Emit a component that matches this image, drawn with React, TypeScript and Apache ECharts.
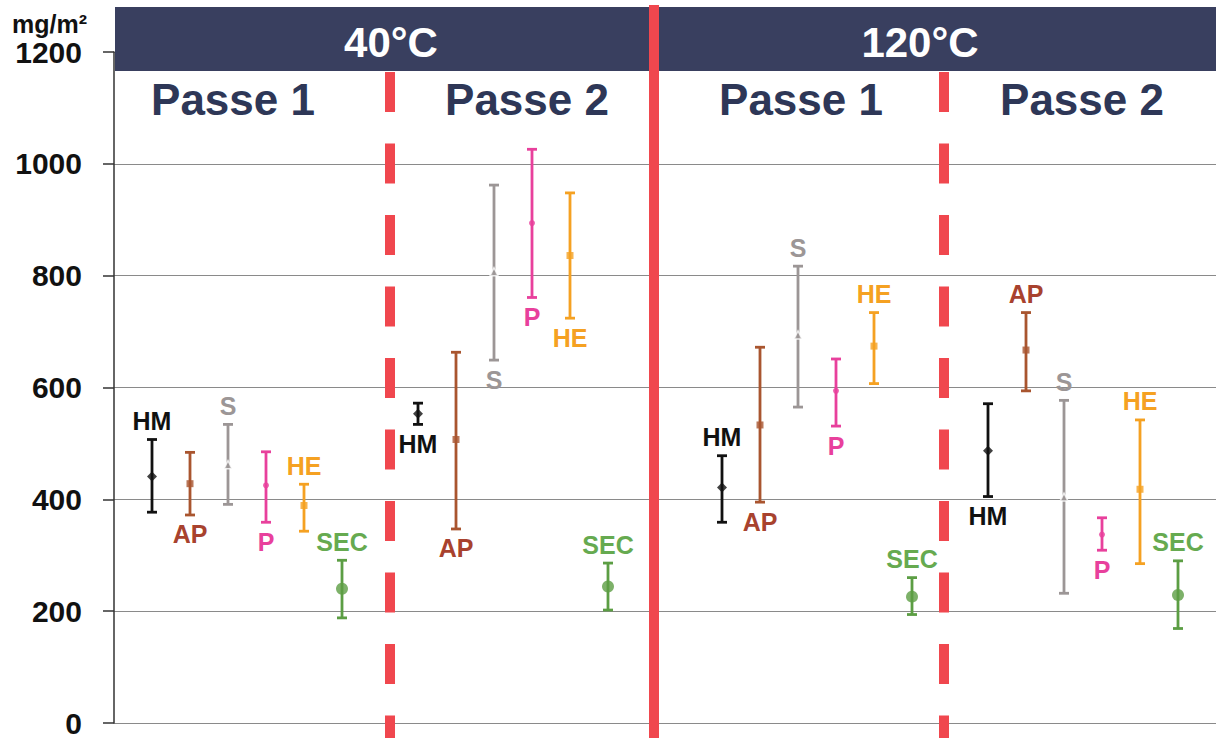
import React, { useEffect, useRef } from "react";
import * as echarts from "echarts";

// Groups (x order) and measurement types
const groups = ["40°C Passe 1", "40°C Passe 2", "120°C Passe 1", "120°C Passe 2"];
const types = ["HM", "AP", "S", "P", "HE", "SEC"];

// mean / low / high per type, one value per group
const hmMean = [441, 553, 421, 487];
const hmLow = [377, 534, 359, 405];
const hmHigh = [507, 572, 478, 571];

const apMean = [428, 507, 533, 667];
const apLow = [372, 347, 395, 594];
const apHigh = [484, 663, 672, 734];

const sMean = [462, 807, 694, 404];
const sLow = [391, 649, 565, 232];
const sHigh = [534, 962, 817, 577];

const pMean = [425, 894, 594, 337];
const pLow = [359, 761, 531, 309];
const pHigh = [485, 1026, 651, 367];

const heMean = [389, 836, 674, 418];
const heLow = [343, 724, 607, 285];
const heHigh = [427, 948, 734, 542];

const secMean = [240, 244, 226, 229];
const secLow = [188, 202, 194, 169];
const secHigh = [291, 286, 260, 290];

// label side per group ("top" = above the bar, "bottom" = below)
const hmSide = ["top", "bottom", "top", "bottom"];
const apSide = ["bottom", "bottom", "bottom", "top"];
const sSide = ["top", "bottom", "top", "top"];
const pSide = ["bottom", "bottom", "bottom", "bottom"];
const heSide = ["top", "bottom", "top", "top"];
const secSide = ["top", "top", "top", "top"];

const yTicks = [0, 200, 400, 600, 800, 1000, 1200];
const tempLabels = ["40°C", "120°C"];
const passLabels = ["Passe 1", "Passe 2", "Passe 1", "Passe 2"];

const FONT = "'Liberation Sans', Arial, Helvetica, sans-serif";
const groupStart = [1, 8, 16, 23];

const seriesDefs = [
  { name: types[0], mean: hmMean, low: hmLow, high: hmHigh, side: hmSide, color: "#111111", label: "#111111", symbol: "diamond", size: 10 },
  { name: types[1], mean: apMean, low: apLow, high: apHigh, side: apSide, color: "#a9552f", label: "#a8422e", symbol: "rect", size: 7 },
  { name: types[2], mean: sMean, low: sLow, high: sHigh, side: sSide, color: "#9c9696", label: "#9c9696", symbol: "triangle", size: 8 },
  { name: types[3], mean: pMean, low: pLow, high: pHigh, side: pSide, color: "#e8409c", label: "#e8409c", symbol: "circle", size: 6 },
  { name: types[4], mean: heMean, low: heLow, high: heHigh, side: heSide, color: "#f5a122", label: "#f5a122", symbol: "rect", size: 7 },
  { name: types[5], mean: secMean, low: secLow, high: secHigh, side: secSide, color: "#5c9e44", label: "#66aa50", symbol: "circle", size: 12 },
];

export default function App() {
  const ref = useRef<HTMLDivElement>(null);
  useEffect(() => {
    if (!ref.current) return;
    const chart = echarts.init(ref.current, null, { renderer: "svg" });
    const series: any[] = [];
    seriesDefs.forEach((d, ti) => {
      const barData = groups.map((_, g) => [groupStart[g] + ti, d.low[g], d.high[g], g]);
      series.push({
        type: "custom",
        name: d.name + " range",
        z: 3,
        encode: { x: 0, y: [1, 2] },
        data: barData,
        renderItem: (params: any, api: any) => {
          const x = api.value(0);
          const lo = api.value(1);
          const hi = api.value(2);
          const g = api.value(3);
          const pl = api.coord([x, lo]);
          const ph = api.coord([x, hi]);
          const cw = 5;
          const lw = 2.8;
          const side = d.side[g];
          const ty = side === "top" ? ph[1] - 6 : pl[1] + 7;
          return {
            type: "group",
            children: [
              { type: "line", shape: { x1: pl[0], y1: pl[1], x2: ph[0], y2: ph[1] }, style: { stroke: d.color, lineWidth: lw } },
              { type: "line", shape: { x1: ph[0] - cw, y1: ph[1], x2: ph[0] + cw, y2: ph[1] }, style: { stroke: d.color, lineWidth: lw } },
              { type: "line", shape: { x1: pl[0] - cw, y1: pl[1], x2: pl[0] + cw, y2: pl[1] }, style: { stroke: d.color, lineWidth: lw } },
              {
                type: "text",
                style: {
                  text: d.name,
                  x: ph[0],
                  y: ty,
                  fill: d.label,
                  fontSize: 25,
                  fontWeight: "bold",
                  fontFamily: FONT,
                  align: "center",
                  verticalAlign: side === "top" ? "bottom" : "top",
                },
              },
            ],
          };
        },
      });
      series.push({
        type: "scatter",
        name: d.name,
        z: 5,
        symbol: d.symbol,
        symbolSize: d.size,
        itemStyle: { color: d.color, borderColor: d.name === "S" ? "#ffffff" : d.color, borderWidth: d.name === "S" ? 1.5 : 0 },
        data: groups.map((_, g) => [groupStart[g] + ti, d.mean[g]]),
      });
    });

    const red = "#f0474e";
    const navy = "#393f5f";
    const graphic: any[] = [
      { type: "rect", z: 100, shape: { x: 115, y: 7, width: 535, height: 64 }, style: { fill: navy } },
      { type: "rect", z: 100, shape: { x: 659, y: 7, width: 557, height: 64 }, style: { fill: navy } },
      { type: "rect", z: 101, shape: { x: 649, y: 5, width: 10, height: 733 }, style: { fill: red } },
      { type: "line", z: 101, shape: { x1: 390, y1: 72, x2: 390, y2: 738 }, style: { stroke: red, lineWidth: 10, lineDash: [40, 31.5] } },
      { type: "line", z: 101, shape: { x1: 944, y1: 72, x2: 944, y2: 738 }, style: { stroke: red, lineWidth: 10, lineDash: [40, 31.5] } },
      { type: "text", z: 102, style: { text: tempLabels[0], x: 391, y: 42, fill: "#ffffff", fontSize: 42, fontWeight: "bold", fontFamily: FONT, align: "center", verticalAlign: "middle" } },
      { type: "text", z: 102, style: { text: tempLabels[1], x: 920, y: 42, fill: "#ffffff", fontSize: 42, fontWeight: "bold", fontFamily: FONT, align: "center", verticalAlign: "middle" } },
      { type: "text", z: 102, style: { text: "mg/m²", x: 12, y: 11, fill: "#111111", fontSize: 25, fontWeight: "bold", fontFamily: FONT, align: "left", verticalAlign: "top" } },
    ];
    const passX = [233, 527, 801, 1082];
    passLabels.forEach((t, i) => {
      graphic.push({ type: "text", z: 102, style: { text: t, x: passX[i], y: 99, fill: "#2e3757", fontSize: 44, fontWeight: "bold", fontFamily: FONT, align: "center", verticalAlign: "middle" } });
    });

    chart.setOption({
      animation: false,
      backgroundColor: "#ffffff",
      grid: { left: 114, right: 0, top: 52, bottom: 11 },
      xAxis: { type: "value", min: 0, max: 29, show: false },
      yAxis: {
        type: "value",
        min: yTicks[0],
        max: yTicks[yTicks.length - 1],
        interval: 200,
        axisLine: { show: true, lineStyle: { color: "#333333", width: 1.5 } },
        axisTick: { show: true, length: 11, lineStyle: { color: "#333333", width: 1.5 } },
        axisLabel: { fontSize: 30, fontWeight: "bold", color: "#111111", fontFamily: FONT, margin: 32, formatter: (v: number) => String(v) },
        splitLine: { show: true, lineStyle: { color: "#8a8a8a", width: 1.2 } },
      },
      series,
      graphic,
    });
    return () => chart.dispose();
  }, []);
  return <div ref={ref} style={{ position: "fixed", left: 0, top: 0, width: 1216, height: 738, background: "#fff" }} />;
}
